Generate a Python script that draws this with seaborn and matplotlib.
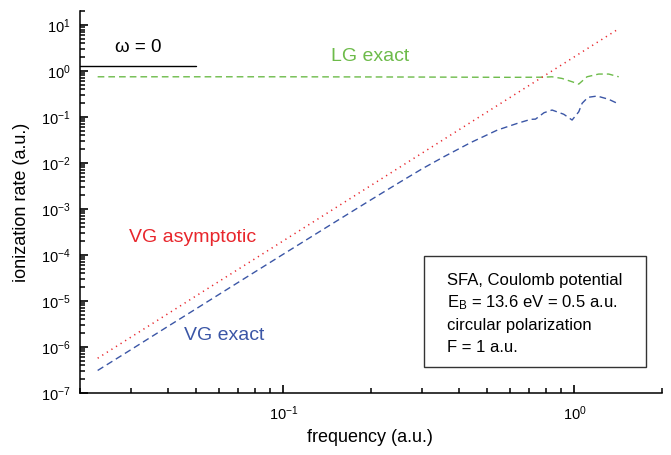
import numpy as np
import pandas as pd
import matplotlib
matplotlib.use("Agg")
import matplotlib.pyplot as plt
from matplotlib.ticker import LogLocator, NullFormatter, LogFormatterSciNotation
from matplotlib.patches import Rectangle
import seaborn as sns

# ---- data ----
omega_asym = [0.023, 0.05, 0.1, 0.2, 0.5, 1.0, 1.42]
rate_asym = [5.7e-7, 1.28e-5, 2.04e-4, 3.26e-3, 0.1275, 2.04, 8.3]

omega_vg = [0.023, 0.03, 0.04, 0.05, 0.07, 0.1, 0.15, 0.2, 0.25, 0.3, 0.356,
            0.44, 0.5437, 0.637, 0.7076, 0.735, 0.786, 0.838, 0.919, 0.982,
            1.035, 1.063, 1.113, 1.197, 1.312, 1.42]
rate_vg = [3.09e-7, 8.83e-7, 2.78e-6, 6.71e-6, 2.55e-5, 1.046e-4, 5.16e-4,
           1.59e-3, 3.76e-3, 7.51e-3, 0.0137, 0.0278, 0.0521, 0.0729, 0.0891,
           0.09, 0.124, 0.142, 0.115, 0.086, 0.130, 0.199, 0.268, 0.286,
           0.243, 0.192]

omega_lg = [0.023, 0.1, 0.3, 0.6, 0.784, 0.838, 0.907, 0.982, 1.035, 1.105,
            1.212, 1.312, 1.42]
rate_lg = [0.75, 0.75, 0.74, 0.73, 0.735, 0.75, 0.69, 0.585, 0.52, 0.75,
           0.86, 0.86, 0.75]

omega_static = [0.02, 0.05]
rate_static = [1.3, 1.3]

box_lines = ["SFA, Coulomb potential",
             r"E$_\mathregular{B}$ = 13.6 eV = 0.5 a.u.",
             "circular polarization",
             "F = 1 a.u."]

GREEN = "#6dbb4a"
RED = "#e8262c"
BLUE = "#3b56a6"

sns.set_theme(style="ticks")
plt.rcParams["font.family"] = ["Liberation Sans", "DejaVu Sans"]
plt.rcParams["mathtext.fontset"] = "custom"
plt.rcParams["mathtext.rm"] = "Liberation Sans"
plt.rcParams["mathtext.it"] = "Liberation Sans:italic"
plt.rcParams["mathtext.bf"] = "Liberation Sans:bold"
plt.rcParams["axes.unicode_minus"] = False
plt.rcParams["lines.scale_dashes"] = False

fig = plt.figure(figsize=(6.71, 4.55), dpi=100)
W, H = 671, 455
ax = fig.add_axes([80 / W, (H - 393) / H, (662 - 80) / W, (393 - 11.2) / H])

df_asym = pd.DataFrame({"omega": omega_asym, "rate": rate_asym})
df_vg = pd.DataFrame({"omega": omega_vg, "rate": rate_vg})
df_lg = pd.DataFrame({"omega": omega_lg, "rate": rate_lg})
df_st = pd.DataFrame({"omega": omega_static, "rate": rate_static})

sns.lineplot(data=df_st, x="omega", y="rate", ax=ax, color="black", lw=1.0,
             estimator=None, sort=False)
sns.lineplot(data=df_lg, x="omega", y="rate", ax=ax, color=GREEN, lw=1.0,
             estimator=None, sort=False, linestyle=(0, (4.8, 2.9)))
sns.lineplot(data=df_vg, x="omega", y="rate", ax=ax, color=BLUE, lw=1.0,
             estimator=None, sort=False, linestyle=(0, (4.8, 2.9)))
sns.lineplot(data=df_asym, x="omega", y="rate", ax=ax, color=RED, lw=1.1,
             estimator=None, sort=False, linestyle=(0, (0.9, 3.0)))

ax.set_xscale("log")
ax.set_yscale("log")
ax.set_xlim(0.02, 2.0)
ax.set_ylim(1e-7, 20)

ax.yaxis.set_major_locator(LogLocator(base=10, numticks=30))
ax.xaxis.set_major_locator(LogLocator(base=10, numticks=30))
ax.yaxis.set_minor_locator(LogLocator(base=10, subs=np.arange(2, 10), numticks=30))
ax.xaxis.set_minor_locator(LogLocator(base=10, subs=np.arange(2, 10), numticks=30))
ax.xaxis.set_minor_formatter(NullFormatter())
ax.yaxis.set_minor_formatter(NullFormatter())
ax.xaxis.set_major_formatter(LogFormatterSciNotation())
ax.yaxis.set_major_formatter(LogFormatterSciNotation())

ax.tick_params(axis="both", which="major", direction="in", length=5.5, width=1.2,
               labelsize=10.5, color="black", labelcolor="black")
ax.tick_params(axis="both", which="minor", direction="in", length=3.6, width=1.1,
               color="black")
ax.tick_params(axis="x", which="major", pad=8)
ax.tick_params(axis="y", which="major", pad=7)

for s in ["top", "right"]:
    ax.spines[s].set_visible(False)
for s in ["left", "bottom"]:
    ax.spines[s].set_color("black")
    ax.spines[s].set_linewidth(1.1)

ax.set_xlabel("frequency (a.u.)", fontsize=13, color="black")
ax.set_ylabel("ionization rate (a.u.)", fontsize=13, color="black")
ax.xaxis.set_label_coords((370 - 80) / 582, (393 - 437) / 381.8)
ax.xaxis.label.set_verticalalignment("center")
ax.yaxis.set_label_coords((22 - 80) / 582, (393 - 202) / 381.8)
ax.yaxis.label.set_verticalalignment("center")

ax.text(0.0316, 3.3, "ω = 0", fontsize=13.5, color="black", ha="center", va="center")
ax.text(0.198, 2.12, "LG exact", fontsize=14, color=GREEN, ha="center", va="center")
ax.text(0.0487, 2.35e-4, "VG asymptotic", fontsize=14, color=RED, ha="center", va="center")
ax.text(0.0628, 1.82e-6, "VG exact", fontsize=14, color=BLUE, ha="center", va="center")

ax.add_patch(Rectangle(((424.3 - 80) / 582, (393 - 366.7) / 381.8),
                       (645.7 - 424.3) / 582, (366.7 - 255.7) / 381.8,
                       transform=ax.transAxes, fill=False, lw=1.0,
                       ec="#333333", zorder=5))
baselines = [285, 307.5, 330, 352.5]
for line, yb in zip(box_lines, baselines):
    ax.text((447 - 80) / 582, (393 - yb) / 381.8, line, transform=ax.transAxes,
            fontsize=12, color="black", ha="left", va="baseline")

fig.savefig("out.png", dpi=100)
